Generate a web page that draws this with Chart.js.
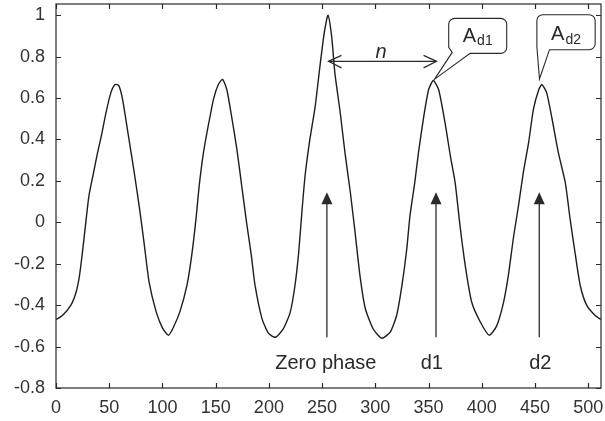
<!DOCTYPE html>
<html>
<head>
<meta charset="utf-8">
<script src="https://cdn.jsdelivr.net/npm/chart.js@4.4.0/dist/chart.umd.min.js"></script>
<style>
  html, body { margin: 0; padding: 0; background: #fff; }
  #wrap { width: 605px; height: 421px; }
</style>
</head>
<body>
<div id="wrap"><canvas id="chart" width="605" height="421"></canvas></div>
<script>
// correlation output, sample index vs value
const sampleX = [0, 6, 14, 19, 22, 24.5, 28, 31, 34.5, 39, 42.5, 47, 51.5, 55.5, 59, 62.5, 67.5, 73.5, 78.5, 83,
  87.5, 94, 100, 105.5, 110, 116.5, 123, 127.5, 131.5, 134.5, 138.5, 143, 148, 152.5, 156.5, 160.5, 165, 170, 174.5, 179,
  183.5, 187, 193.5, 199.5, 206, 213.5, 220, 224.5, 228, 231, 234, 238.5, 243.5, 248, 252, 255.5, 259, 262, 267, 271.5,
  276.5, 281, 285.5, 290.5, 298, 306, 314, 320, 325, 329.5, 332.5, 337, 340.5, 345, 350, 354.5, 359.5, 365.5, 370.5, 375,
  379.5, 384.5, 390.5, 398.5, 407, 414, 420.5, 425, 430, 434.5, 439, 444, 448.5, 453.5, 456.5, 461, 466, 472, 478.5, 483,
  488, 492.5, 498.5, 506.5, 512];
const sampleY = [-0.47, -0.45, -0.40, -0.335, -0.26, -0.16, 0.0, 0.13, 0.22, 0.335, 0.415, 0.53, 0.625, 0.665, 0.66, 0.595, 0.435, 0.24, 0.065, -0.11,
  -0.29, -0.43, -0.51, -0.545, -0.51, -0.43, -0.305, -0.16, 0.015, 0.175, 0.335, 0.465, 0.595, 0.665, 0.69, 0.64, 0.51, 0.35, 0.175, 0.0,
  -0.16, -0.305, -0.465, -0.535, -0.555, -0.515, -0.435, -0.305, -0.145, 0.05, 0.225, 0.40, 0.56, 0.755, 0.915, 1.0, 0.895, 0.72, 0.53, 0.335,
  0.145, -0.05, -0.255, -0.415, -0.515, -0.56, -0.53, -0.45, -0.305, -0.13, 0.03, 0.19, 0.335, 0.495, 0.64, 0.685, 0.64, 0.48, 0.32, 0.19,
  -0.015, -0.21, -0.385, -0.48, -0.545, -0.50, -0.385, -0.255, -0.065, 0.08, 0.24, 0.385, 0.545, 0.64, 0.665, 0.625, 0.50, 0.335, 0.19, 0.015,
  -0.16, -0.305, -0.40, -0.45, -0.47];

const xTicks = [0, 50, 100, 150, 200, 250, 300, 350, 400, 450, 500];
const yTicks = [-0.8, -0.6, -0.4, -0.2, 0, 0.2, 0.4, 0.6, 0.8, 1];

// vertical markers under the peaks
const markerX = [254.5, 357, 454];
const markerLabels = ['Zero phase', 'd1', 'd2'];
const markerLabelX = [253.5, 353, 455];

// amplitude callouts, anchored at the peak tips
const calloutNames = ['d1', 'd2'];
const calloutX = [355.5, 454.2];
const calloutY = [0.69, 0.692];

// distance between zero phase and d1
const spanFrom = 256;
const spanTo = 357.5;
const spanY = 0.777;

const INK = '#2a2a2a';
const FONT = '"Liberation Sans", Arial, Helvetica, sans-serif';

const points = sampleX.map((x, i) => ({ x, y: sampleY[i] }));

function upArrow(ctx, px, y0, y1) {
  ctx.beginPath();
  ctx.moveTo(px, y0);
  ctx.lineTo(px, y1 + 10);
  ctx.stroke();
  ctx.beginPath();
  ctx.moveTo(px, y1);
  ctx.lineTo(px - 5.5, y1 + 12);
  ctx.lineTo(px + 5.5, y1 + 12);
  ctx.closePath();
  ctx.fill();
}

function openHead(ctx, px, py, dir) {
  ctx.beginPath();
  ctx.moveTo(px + dir * 13, py - 6);
  ctx.lineTo(px, py);
  ctx.lineTo(px + dir * 13, py + 6.5);
  ctx.stroke();
}

function callout(ctx, tx, ty, box, name) {
  const L = tx + box.l, R = tx + box.r, T = ty + box.t, B = ty + box.b, r = 6;
  ctx.beginPath();
  ctx.moveTo(tx, ty);
  ctx.lineTo(L + box.b1x, B - box.b1y);
  ctx.lineTo(L, B - r);
  ctx.lineTo(L, T + r);
  ctx.arcTo(L, T, L + r, T, r);
  ctx.lineTo(R - r, T);
  ctx.arcTo(R, T, R, T + r, r);
  ctx.lineTo(R, B - r);
  ctx.arcTo(R, B, R - r, B, r);
  ctx.lineTo(L + box.b2x, B);
  ctx.closePath();
  ctx.fillStyle = '#fff';
  ctx.fill();
  ctx.stroke();

  ctx.fillStyle = INK;
  ctx.textBaseline = 'alphabetic';
  ctx.textAlign = 'left';
  ctx.font = '20px ' + FONT;
  const wA = ctx.measureText('A').width;
  ctx.font = '14px ' + FONT;
  const wS = ctx.measureText(name).width;
  const x0 = (L + R) / 2 - (wA + wS + 1) / 2;
  const base = T + box.base;
  ctx.font = '20px ' + FONT;
  ctx.fillText('A', x0, base);
  ctx.font = '14px ' + FONT;
  ctx.fillText(name, x0 + wA + 1, base + 3.5);
}

const calloutBoxes = [
  { l: 14.3, r: 72.3, t: -61, b: -26, b1x: 3.5, b1y: 1, b2x: 21.4, base: 23.4 },
  { l: -2.6, r: 55.7, t: -64.3, b: -29.3, b1x: 0, b1y: 3, b2x: 12.6, base: 25.7 }
];

const framePlugin = {
  id: 'frame',
  afterDatasetsDraw(chart) {
    const { ctx, chartArea: a, scales: { x, y } } = chart;
    ctx.save();
    ctx.strokeStyle = INK;
    ctx.fillStyle = INK;
    ctx.lineWidth = 1.2;
    ctx.strokeRect(a.left, a.top, a.right - a.left, a.bottom - a.top);

    // inward tick marks on all four sides
    const len = 5;
    ctx.beginPath();
    xTicks.forEach(v => {
      const px = Math.round(x.getPixelForValue(v)) + 0.5;
      ctx.moveTo(px, a.bottom); ctx.lineTo(px, a.bottom - len);
      ctx.moveTo(px, a.top); ctx.lineTo(px, a.top + len);
    });
    yTicks.forEach(v => {
      const py = Math.round(y.getPixelForValue(v)) + 0.5;
      ctx.moveTo(a.left, py); ctx.lineTo(a.left + len, py);
      ctx.moveTo(a.right, py); ctx.lineTo(a.right - len, py);
    });
    ctx.stroke();

    // markers
    ctx.lineWidth = 1.3;
    const yLow = y.getPixelForValue(-0.555);
    const yHigh = y.getPixelForValue(0.145);
    markerX.forEach(v => upArrow(ctx, x.getPixelForValue(v), yLow, yHigh));

    ctx.font = '20px ' + FONT;
    ctx.textAlign = 'center';
    ctx.textBaseline = 'middle';
    markerLabels.forEach((t, i) => {
      ctx.fillText(t, x.getPixelForValue(markerLabelX[i]), y.getPixelForValue(-0.68));
    });

    // n span
    const sy = y.getPixelForValue(spanY);
    const sx0 = x.getPixelForValue(spanFrom);
    const sx1 = x.getPixelForValue(spanTo);
    ctx.lineWidth = 1.2;
    ctx.beginPath();
    ctx.moveTo(sx0, sy); ctx.lineTo(sx1, sy);
    ctx.stroke();
    openHead(ctx, sx0, sy, 1);
    openHead(ctx, sx1, sy, -1);
    ctx.font = 'italic 20px ' + FONT;
    ctx.fillText('n', x.getPixelForValue(305.4), y.getPixelForValue(0.821));

    // amplitude callouts
    ctx.lineWidth = 1.1;
    calloutNames.forEach((n, i) => {
      callout(ctx, x.getPixelForValue(calloutX[i]), y.getPixelForValue(calloutY[i]), calloutBoxes[i], n);
    });
    ctx.restore();
  }
};

new Chart(document.getElementById('chart'), {
  type: 'line',
  data: {
    datasets: [{
      data: points,
      borderColor: '#1e1e1e',
      borderWidth: 1.4,
      pointRadius: 0,
      tension: 0.2,
      fill: false
    }]
  },
  options: {
    responsive: false,
    animation: false,
    devicePixelRatio: 1,
    layout: { padding: { top: 4, right: 4, left: 0, bottom: 0 } },
    plugins: { legend: { display: false }, tooltip: { enabled: false } },
    scales: {
      x: {
        type: 'linear',
        min: 0,
        max: 512,
        grid: { display: false, drawTicks: false },
        border: { display: false },
        ticks: { color: '#333', font: { family: FONT, size: 18 }, padding: 9, maxRotation: 0, autoSkip: false },
        afterBuildTicks: s => { s.ticks = xTicks.map(v => ({ value: v })); },
        afterFit: s => { s.height = 33; s.paddingLeft = 0; s.paddingRight = 0; }
      },
      y: {
        type: 'linear',
        min: -0.8,
        max: 1.054,
        grid: { display: false, drawTicks: false },
        border: { display: false },
        ticks: {
          color: '#333', font: { family: FONT, size: 18 }, padding: 11, autoSkip: false,
          callback: v => String(+v.toFixed(1))
        },
        afterBuildTicks: s => { s.ticks = yTicks.map(v => ({ value: v })); },
        afterFit: s => { s.width = 56; s.paddingTop = 0; s.paddingBottom = 0; }
      }
    }
  },
  plugins: [framePlugin]
});
</script>
</body>
</html>
